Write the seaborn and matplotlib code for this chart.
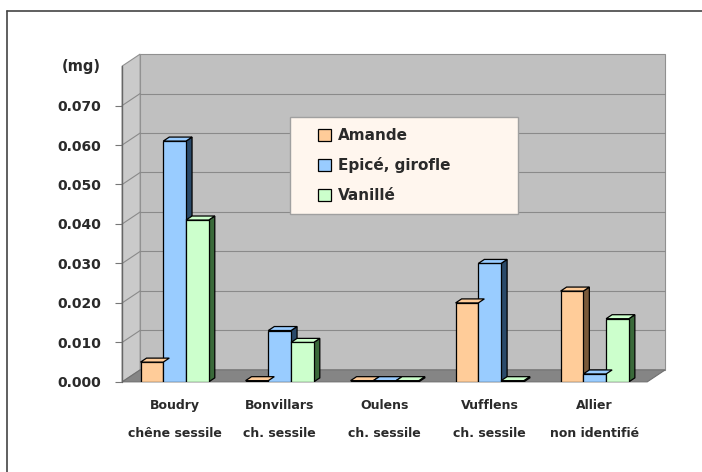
import matplotlib
matplotlib.use('Agg')
import numpy as np
import pandas as pd
import matplotlib.pyplot as plt
from matplotlib.patches import Polygon, Rectangle
from matplotlib.lines import Line2D
from matplotlib.legend_handler import HandlerPatch
import seaborn as sns

#données
sites = ["Boudry\nchêne sessile", "Bonvillars\nch. sessile", "Oulens\nch. sessile",
         "Vufflens\nch. sessile", "Allier\nnon identifié"]
aromes = ["Amande", "Epicé, girofle", "Vanillé"]
amande = [0.005, 0.0003, 0.0003, 0.020, 0.023]
epice = [0.061, 0.013, 0.0003, 0.030, 0.002]
vanille = [0.041, 0.010, 0.0003, 0.0003, 0.016]
yticks = [0.000, 0.010, 0.020, 0.030, 0.040, 0.050, 0.060, 0.070]

couleurs = ["#FFCC99", "#99CCFF", "#CCFFCC"]
cotes = ["#7a5a3a", "#2a4a6a", "#3a6a3a"]

df = pd.DataFrame({"site": sites * 3,
                   "arome": np.repeat(aromes, len(sites)),
                   "valeur": amande + epice + vanille})

sns.set_style("white")
plt.rcParams['font.family'] = ['DejaVu Sans']

DPI = 100
fig = plt.figure(figsize=(7.02, 4.72), dpi=DPI)
ax = fig.add_axes([0.174, 0.191, 0.748, 0.669])
ax.set_facecolor("none")
ax.set_zorder(2)

sns.barplot(data=df, x="site", y="valeur", hue="arome", palette=couleurs,
            width=0.65, gap=0, edgecolor="black", linewidth=0.9, saturation=1,
            ax=ax, zorder=3, legend=False)

ax.set_xlim(-0.5, 4.5)
ax.set_ylim(0, 0.08)
ax.set_yticks(yticks)
ax.set_yticklabels([f"{v:.3f}" for v in yticks], fontsize=10, fontweight="bold", color="#2a2a2a")
ax.set_xticks(range(len(sites)))
ax.set_xticklabels(sites, fontsize=9, fontweight="bold", linespacing=2.5, color="#2a2a2a")
ax.set_xlabel("")
ax.set_ylabel("")
ax.tick_params(axis="x", length=0, pad=12)
ax.tick_params(axis="y", length=5, width=0.8, color="#777777", pad=10, left=True)
for s in ax.spines.values():
    s.set_visible(False)

# profondeur 3D (pixels)
DX, DY = 18, 12
fig.canvas.draw()
trans_d = ax.transData
x0, y0 = ax.transAxes.transform((0, 0))
x1, y1 = ax.transAxes.transform((1, 1))

# mur du fond
fig.patches.append(Rectangle((x0 + DX, y0 + DY), x1 - x0, y1 - y0, transform=None,
                             facecolor="#c0c0c0", edgecolor="#909090", lw=0.8, zorder=0))
# mur gauche
fig.patches.append(Polygon([(x0, y0), (x0 + DX, y0 + DY), (x0 + DX, y1 + DY), (x0, y1)],
                           transform=None, facecolor="#cacaca", edgecolor="#909090",
                           lw=0.8, zorder=0))
# sol
fig.patches.append(Polygon([(x0, y0), (x1, y0), (x1 + DX, y0 + DY), (x0 + DX, y0 + DY)],
                           transform=None, facecolor="#858585", edgecolor="#707070",
                           lw=0.8, zorder=0))
# grille du fond
for v in yticks[1:]:
    _, yy = trans_d.transform((0, v))
    fig.lines.append(Line2D([x0 + DX, x1 + DX], [yy + DY, yy + DY], transform=None,
                            color="#8a8a8a", lw=0.8, zorder=1))
    fig.lines.append(Line2D([x0, x0 + DX], [yy, yy + DY], transform=None,
                            color="#8a8a8a", lw=0.8, zorder=1))
# axe vertical
ax.plot([0, 0], [0, 1], transform=ax.transAxes, color="#666666", lw=1, clip_on=False, zorder=2)

# faces des barres
bdx, bdy = 6, 4
barres = list(ax.patches)
for i, p in enumerate(barres):
    k = i // len(sites)
    bx0, by0 = trans_d.transform((p.get_x(), 0))
    bx1, by1 = trans_d.transform((p.get_x() + p.get_width(), p.get_height()))
    ax.add_patch(Polygon([(bx1, by0), (bx1 + bdx, by0 + bdy), (bx1 + bdx, by1 + bdy), (bx1, by1)],
                         transform=None, facecolor=cotes[k], edgecolor="black", lw=0.9, zorder=2.9))
    ax.add_patch(Polygon([(bx0, by1), (bx1, by1), (bx1 + bdx, by1 + bdy), (bx0 + bdx, by1 + bdy)],
                         transform=None, facecolor=couleurs[k], edgecolor="black", lw=0.9,
                         zorder=3.1))


# légende (carrés décalés vers la droite)
def carre(legend, orig_handle, xdescent, ydescent, width, height, fontsize):
    return Rectangle((-xdescent + width - height, -ydescent), height, height)


handles = [Rectangle((0, 0), 1, 1, facecolor=c, edgecolor="black", lw=0.9) for c in couleurs]
leg = ax.legend(handles, aromes, loc="upper left", bbox_to_anchor=(0.32, 0.838, 0.434, 0.0),
                mode="expand", frameon=True, fancybox=False,
                prop={"weight": "bold", "size": 11},
                handler_map={Rectangle: HandlerPatch(patch_func=carre)},
                handlelength=1.95, handleheight=0.85, labelspacing=0.95, borderpad=0.7,
                handletextpad=0.45, borderaxespad=0)
for t in leg.get_texts():
    t.set_color("#2a2a2a")
leg.get_frame().set_facecolor("#fff6ee")
leg.get_frame().set_edgecolor("#a0a0a0")
leg.get_frame().set_alpha(1)
leg.set_zorder(5)

fig.text(0.088, 1 - 67 / 472, "(mg)", fontsize=10.5, fontweight="bold", va="center",
         color="#2a2a2a")

# cadre
fig.lines.append(Line2D([7 / 702, 1], [1 - 11 / 472, 1 - 11 / 472], transform=fig.transFigure,
                        color="#444444", lw=1.2))
fig.lines.append(Line2D([7 / 702, 7 / 702], [0, 1 - 11 / 472], transform=fig.transFigure,
                        color="#444444", lw=1.2))

fig.savefig("out.png", dpi=DPI)
